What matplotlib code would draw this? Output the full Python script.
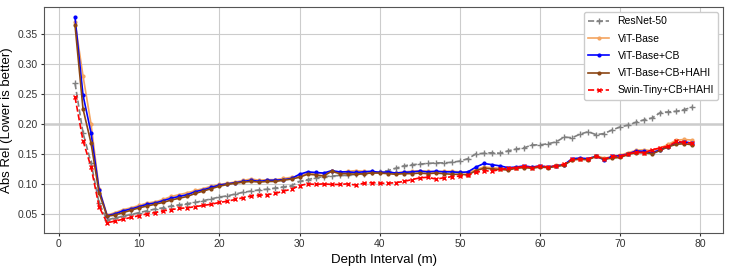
import numpy as np
import matplotlib
matplotlib.use('Agg')
import matplotlib.pyplot as plt

plt.rcParams['font.family'] = ['Liberation Sans Narrow', 'Liberation Sans', 'DejaVu Sans']

depth = list(range(2, 80))

resnet50 = [0.268, 0.185, 0.135, 0.068, 0.040, 0.043, 0.046, 0.049, 0.052, 0.055,
            0.058, 0.060, 0.063, 0.065, 0.067, 0.069, 0.072, 0.075, 0.078, 0.080,
            0.083, 0.086, 0.088, 0.090, 0.091, 0.093, 0.095, 0.097, 0.104, 0.107,
            0.110, 0.112, 0.113, 0.114, 0.114, 0.116, 0.117, 0.119, 0.120, 0.122,
            0.126, 0.130, 0.132, 0.133, 0.134, 0.135, 0.135, 0.136, 0.138, 0.142,
            0.150, 0.151, 0.152, 0.151, 0.155, 0.158, 0.160, 0.165, 0.165, 0.167,
            0.170, 0.178, 0.177, 0.183, 0.187, 0.182, 0.184, 0.190, 0.195, 0.198,
            0.203, 0.207, 0.210, 0.219, 0.220, 0.221, 0.224, 0.228]

vit_base = [0.370, 0.280, 0.200, 0.092, 0.048, 0.052, 0.057, 0.060, 0.064, 0.068,
            0.070, 0.074, 0.079, 0.082, 0.085, 0.089, 0.092, 0.096, 0.099, 0.101,
            0.103, 0.106, 0.108, 0.106, 0.107, 0.107, 0.109, 0.111, 0.113, 0.118,
            0.118, 0.117, 0.121, 0.119, 0.121, 0.122, 0.121, 0.120, 0.119, 0.119,
            0.118, 0.120, 0.121, 0.122, 0.121, 0.120, 0.121, 0.121, 0.120, 0.118,
            0.124, 0.128, 0.127, 0.126, 0.125, 0.127, 0.128, 0.128, 0.129, 0.128,
            0.131, 0.132, 0.140, 0.142, 0.141, 0.147, 0.143, 0.145, 0.148, 0.152,
            0.156, 0.157, 0.155, 0.160, 0.166, 0.173, 0.174, 0.173]

vit_cb = [0.378, 0.248, 0.185, 0.090, 0.047, 0.050, 0.055, 0.058, 0.062, 0.066,
          0.068, 0.072, 0.076, 0.079, 0.082, 0.087, 0.090, 0.094, 0.098, 0.100,
          0.102, 0.104, 0.106, 0.104, 0.106, 0.106, 0.107, 0.109, 0.116, 0.120,
          0.119, 0.118, 0.122, 0.120, 0.120, 0.119, 0.120, 0.121, 0.119, 0.120,
          0.118, 0.119, 0.120, 0.121, 0.120, 0.121, 0.120, 0.120, 0.119, 0.120,
          0.128, 0.134, 0.132, 0.130, 0.127, 0.128, 0.130, 0.128, 0.130, 0.128,
          0.130, 0.132, 0.142, 0.143, 0.142, 0.146, 0.140, 0.146, 0.147, 0.150,
          0.155, 0.154, 0.152, 0.157, 0.162, 0.168, 0.170, 0.168]

vit_cb_hahi = [0.365, 0.225, 0.168, 0.085, 0.046, 0.048, 0.052, 0.056, 0.060, 0.063,
               0.066, 0.069, 0.073, 0.076, 0.079, 0.084, 0.088, 0.092, 0.096, 0.099,
               0.101, 0.103, 0.104, 0.103, 0.104, 0.104, 0.106, 0.108, 0.111, 0.116,
               0.115, 0.113, 0.121, 0.117, 0.117, 0.116, 0.117, 0.118, 0.118, 0.117,
               0.116, 0.117, 0.117, 0.118, 0.117, 0.118, 0.117, 0.116, 0.116, 0.115,
               0.122, 0.126, 0.125, 0.124, 0.123, 0.126, 0.127, 0.126, 0.128, 0.127,
               0.129, 0.131, 0.140, 0.141, 0.140, 0.146, 0.141, 0.143, 0.144, 0.149,
               0.152, 0.152, 0.150, 0.156, 0.162, 0.166, 0.167, 0.165]

swin_cb_hahi = [0.245, 0.172, 0.128, 0.062, 0.035, 0.038, 0.041, 0.044, 0.047, 0.050,
                0.052, 0.055, 0.057, 0.059, 0.060, 0.062, 0.064, 0.066, 0.069, 0.071,
                0.074, 0.077, 0.080, 0.081, 0.082, 0.084, 0.088, 0.091, 0.097, 0.100,
                0.099, 0.100, 0.099, 0.099, 0.100, 0.098, 0.101, 0.102, 0.101, 0.101,
                0.102, 0.104, 0.107, 0.110, 0.111, 0.108, 0.110, 0.112, 0.113, 0.114,
                0.119, 0.122, 0.121, 0.124, 0.126, 0.127, 0.129, 0.127, 0.130, 0.128,
                0.130, 0.133, 0.141, 0.141, 0.142, 0.146, 0.141, 0.146, 0.146, 0.150,
                0.153, 0.152, 0.157, 0.160, 0.163, 0.171, 0.169, 0.168]

fig = plt.figure(figsize=(7.48, 2.67), dpi=100)
ax = fig.add_axes([0.059, 0.127, 0.908, 0.847])

ax.grid(True, color='#cccccc', linewidth=0.8)
ax.axhline(0.20, color='#cccccc', linewidth=1.8, zorder=0)
ax.set_axisbelow(True)

ax.plot(depth, resnet50, color='gray', linestyle='--', marker='+', markersize=4,
        linewidth=1.2, label='ResNet-50')
ax.plot(depth, vit_base, color='#f4a460', linestyle='-', marker='.', markersize=4,
        linewidth=1.2, label='ViT-Base')
ax.plot(depth, vit_cb, color='blue', linestyle='-', marker='.', markersize=4,
        linewidth=1.2, label='ViT-Base+CB')
ax.plot(depth, vit_cb_hahi, color='#8b4513', linestyle='-', marker='.', markersize=4,
        linewidth=1.2, label='ViT-Base+CB+HAHI')
ax.plot(depth, swin_cb_hahi, color='red', linestyle='--', marker='x', markersize=3,
        linewidth=1.2, label='Swin-Tiny+CB+HAHI')

ax.set_xticks(range(0, 81, 10))
ax.set_yticks([0.05, 0.10, 0.15, 0.20, 0.25, 0.30, 0.35])
ax.tick_params(labelsize=7.5, colors='#333333', length=2.5, pad=2)
ax.set_xlabel('Depth Interval (m)', fontsize=9.5, labelpad=3)
ax.set_ylabel('Abs Rel (Lower is better)', fontsize=9.5, labelpad=3)
for s in ax.spines.values():
    s.set_color('#555555')

ax.legend(loc='upper right', fontsize=7.5, framealpha=1.0, handlelength=2.0,
          labelspacing=0.7, borderpad=0.4)

fig.savefig('out.png', dpi=100)
